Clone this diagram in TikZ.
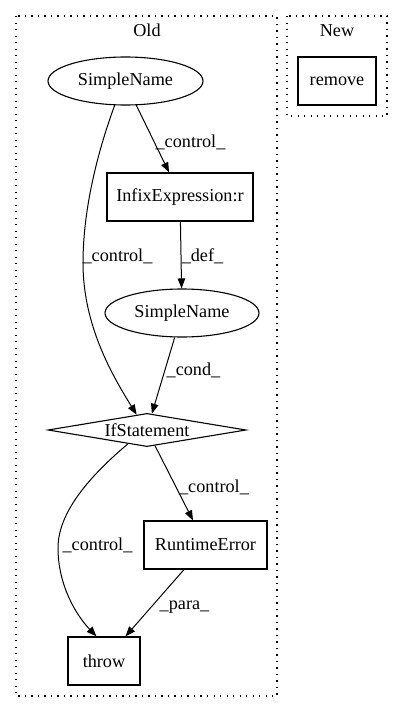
\documentclass[tikz,border=0pt]{standalone}
\usepackage{fontspec}
\setmainfont{Liberation Serif}
\usetikzlibrary{shapes.geometric,arrows.meta}
\begin{document}
\begin{tikzpicture}[x=1pt,y=-1pt,
  every node/.style={font=\fontsize{18.2}{20}\selectfont, inner sep=0pt},
  box/.style={draw, line width=1.2pt, rectangle, minimum height=48pt},
  ell/.style={draw, line width=1.1pt, ellipse, minimum height=48pt},
  dia/.style={draw, line width=1.1pt, diamond, shape aspect=4.2, minimum width=198pt},
  cluster/.style={line width=1.3pt, dash pattern=on 1.3pt off 5.2pt},
  edge/.style={line width=1pt, -{Triangle[length=10pt,width=7.5pt]}},
  lab/.style={anchor=base}
]
\useasboundingbox (0,0) rectangle (403,712);
% clusters
\draw[cluster] (16,16) rectangle (277,696);
\draw[cluster] (287,16) rectangle (387,116);
\node[lab] (oldlab) at (147,36) {Old};
\node[lab] (newlab) at (337,36) {New};
% nodes
\node[box, minimum width=78pt] (remove) at (337,81) {remove};
\node[ell, minimum width=155pt] (sn1) at (125.5,81) {SimpleName};
\node[box, minimum width=146pt] (infix) at (180,197) {InfixExpression:r};
\node[ell, minimum width=154pt] (sn2) at (182,313) {SimpleName};
\node[dia] (if) at (147,430) {IfStatement};
\node[box, minimum width=123pt] (re) at (205.5,545) {RuntimeError};
\node[box, minimum width=72pt] (throw) at (104,661) {throw};
% edges
\draw[edge] (sn1.-66) -- (infix.114.6);
\node[lab] (l1) at (190.5,147) {\_control\_};
\draw[edge] (sn1.246) .. controls (100,145) and (83,205) .. (83,263)
   .. controls (83,325) and (112,375) .. (if.124);
\node[lab] (l2) at (117.5,261) {\_control\_};
\draw[edge] (infix) -- (sn2);
\node[lab] (l3) at (202.5,261) {\_def\_};
\draw[edge] (sn2) -- (if);
\node[lab] (l4) at (193.5,375.5) {\_cond\_};
\draw[edge] (if) -- (re);
\node[lab] (l5) at (214,492) {\_control\_};
\draw[edge] (if.216) .. controls (85,480) and (58,515) .. (58,548)
   .. controls (58,585) and (76,615) .. (throw.107);
\node[lab] (l6) at (97.5,550) {\_control\_};
\draw[edge] (re) -- (throw);
\node[lab] (l7) at (184.5,609) {\_para\_};
\end{tikzpicture}
\end{document}
